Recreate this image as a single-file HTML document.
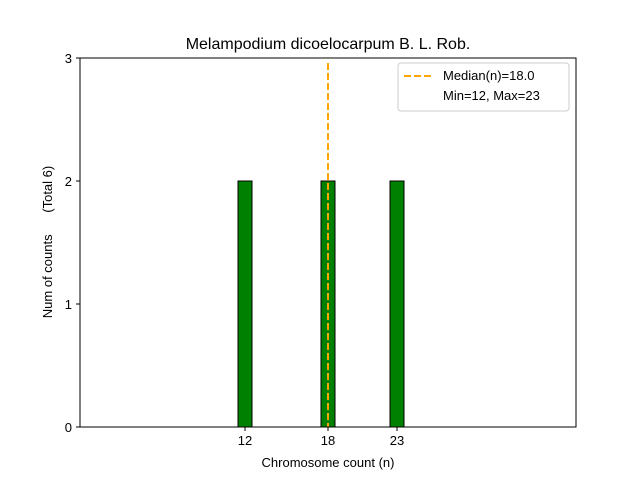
<!DOCTYPE html>
<html><head><style>body{margin:0;background:#fff}svg{display:block}</style></head><body>
<svg width="640" height="480" xmlns="http://www.w3.org/2000/svg" font-family="Liberation Sans, DejaVu Sans, sans-serif">
<rect width="640" height="480" fill="#fff"/>
<line x1="80" y1="427" x2="445" y2="427" stroke="#000" stroke-width="1"/>
<rect x="238" y="181" width="14" height="246" fill="green" stroke="#000" stroke-width="1"/>
<rect x="321" y="181" width="14" height="246" fill="green" stroke="#000" stroke-width="1"/>
<rect x="390" y="181" width="14" height="246" fill="green" stroke="#000" stroke-width="1"/>
<line x1="328" y1="63" x2="328" y2="427" stroke="orange" stroke-width="2" stroke-dasharray="7,3"/>
<rect x="80" y="58" width="496" height="369" fill="none" stroke="#000" stroke-width="1"/>
<g stroke="#000"><line x1="76" y1="427" x2="80" y2="427"/><line x1="76" y1="304" x2="80" y2="304"/><line x1="76" y1="181" x2="80" y2="181"/><line x1="76" y1="58" x2="80" y2="58"/>
<line x1="245" y1="427" x2="245" y2="431"/><line x1="328" y1="427" x2="328" y2="431"/><line x1="397" y1="427" x2="397" y2="431"/></g>
<g font-size="13" fill="#000" text-anchor="end"><text x="72" y="432">0</text><text x="72" y="309">1</text><text x="72" y="186">2</text><text x="72" y="63">3</text></g>
<g font-size="13" fill="#000" text-anchor="middle"><text x="245" y="445">12</text><text x="328" y="445">18</text><text x="397" y="445">23</text>
<text x="328" y="467">Chromosome count (n)</text>
<text x="328" y="49" font-size="16">Melampodium dicoelocarpum B. L. Rob.</text></g>
<text transform="translate(52,242) rotate(-90)" font-size="13" text-anchor="middle" style="white-space:pre">Num of counts      (Total 6)</text>
<rect x="398" y="63" width="171" height="48" rx="3" fill="#fff" stroke="#ccc"/>
<line x1="404" y1="76" x2="432" y2="76" stroke="orange" stroke-width="2" stroke-dasharray="7,3"/>
<text x="443" y="80" font-size="13">Median(n)=18.0</text>
<text x="443" y="100" font-size="13">Min=12, Max=23</text>
</svg></body></html>
